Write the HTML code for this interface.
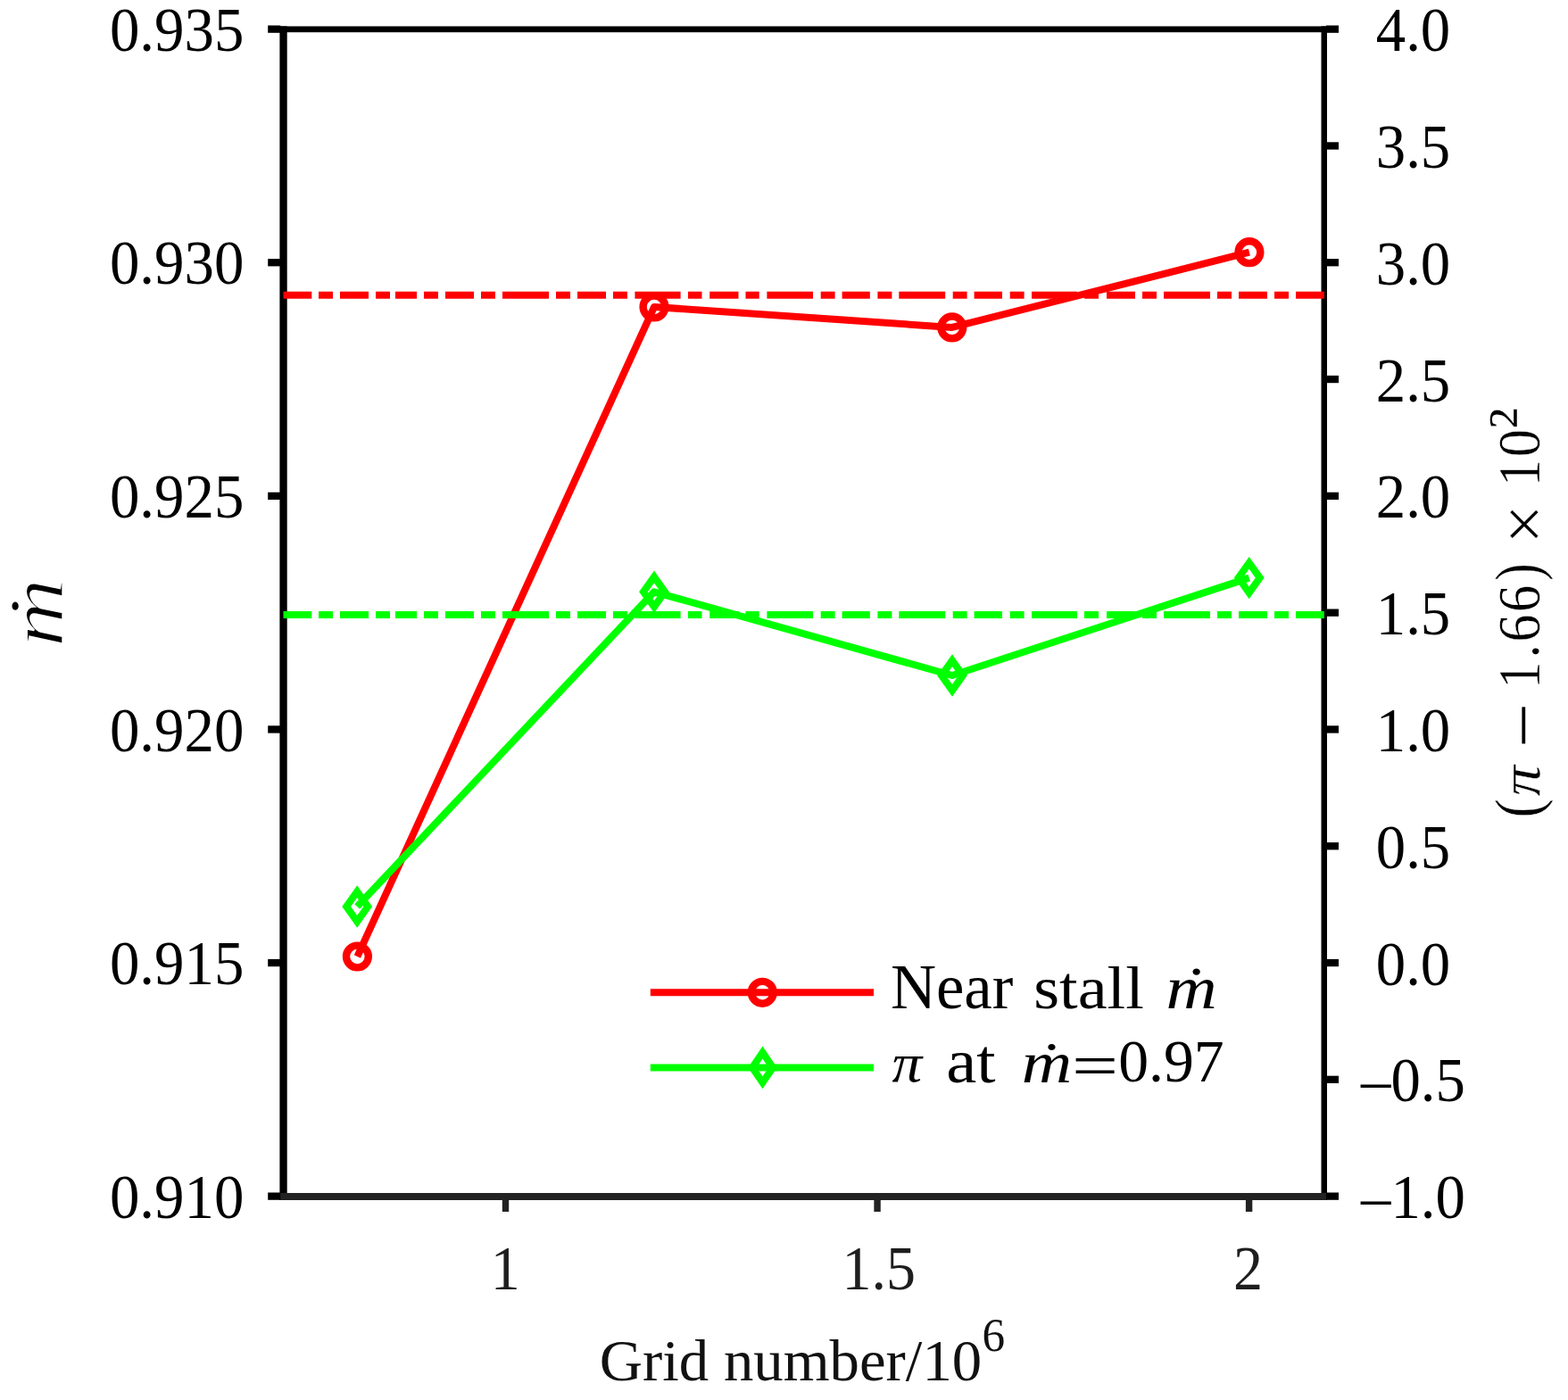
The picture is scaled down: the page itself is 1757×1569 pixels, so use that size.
<!DOCTYPE html>
<html><head><meta charset="utf-8"><title>Grid independence</title>
<style>html,body{margin:0;padding:0;background:#fff;overflow:hidden}svg{display:block}text{font-family:'Liberation Serif', 'Times New Roman', serif}</style></head><body>
<svg width="1757" height="1569" viewBox="0 0 1757 1569">
<rect width="1757" height="1569" fill="#fff"/>
<polyline points="400.4,1072.0 733.0,344.0 1066.8,366.9 1399.9,282.7" fill="none" stroke="#ff0000" stroke-width="8" stroke-linejoin="round" stroke-linecap="butt"/>
<circle cx="400.4" cy="1072.0" r="12.4" fill="none" stroke="#ff0000" stroke-width="8.4"/>
<circle cx="733.0" cy="344.0" r="12.4" fill="none" stroke="#ff0000" stroke-width="8.4"/>
<circle cx="1066.8" cy="366.9" r="12.4" fill="none" stroke="#ff0000" stroke-width="8.4"/>
<circle cx="1399.9" cy="282.7" r="12.4" fill="none" stroke="#ff0000" stroke-width="8.4"/>
<polyline points="400.2,1016.0 733.0,663.3 1067.0,757.0 1399.7,647.6" fill="none" stroke="#00ff00" stroke-width="8" stroke-linejoin="round" stroke-linecap="butt"/>
<path d="M400.2 999.2L412.2 1016.0L400.2 1032.8L388.2 1016.0Z" fill="none" stroke="#00ff00" stroke-width="8" stroke-linejoin="miter" stroke-miterlimit="10"/>
<path d="M733.0 646.5L745.0 663.3L733.0 680.1L721.0 663.3Z" fill="none" stroke="#00ff00" stroke-width="8" stroke-linejoin="miter" stroke-miterlimit="10"/>
<path d="M1067.0 740.2L1079.0 757.0L1067.0 773.8L1055.0 757.0Z" fill="none" stroke="#00ff00" stroke-width="8" stroke-linejoin="miter" stroke-miterlimit="10"/>
<path d="M1399.7 630.8L1411.7 647.6L1399.7 664.4L1387.7 647.6Z" fill="none" stroke="#00ff00" stroke-width="8" stroke-linejoin="miter" stroke-miterlimit="10"/>
<rect x="313.40" y="29.40" width="8.30" height="1315.60" fill="#000"/>
<rect x="1480.50" y="29.40" width="6.50" height="1315.60" fill="#000"/>
<rect x="313.40" y="29.45" width="1173.60" height="6.75" fill="#000"/>
<rect x="313.40" y="1337.00" width="1173.60" height="8.00" fill="#222"/>
<rect x="300.2" y="28.50" width="14" height="8.3" fill="#000"/>
<rect x="300.2" y="290.10" width="14" height="8.3" fill="#000"/>
<rect x="300.2" y="551.70" width="14" height="8.3" fill="#000"/>
<rect x="300.2" y="813.30" width="14" height="8.3" fill="#000"/>
<rect x="300.2" y="1074.90" width="14" height="8.3" fill="#000"/>
<rect x="300.2" y="1336.50" width="14" height="8.3" fill="#000"/>
<rect x="1486" y="28.50" width="14" height="8.3" fill="#000"/>
<rect x="1486" y="159.30" width="14" height="8.3" fill="#000"/>
<rect x="1486" y="290.10" width="14" height="8.3" fill="#000"/>
<rect x="1486" y="420.90" width="14" height="8.3" fill="#000"/>
<rect x="1486" y="551.70" width="14" height="8.3" fill="#000"/>
<rect x="1486" y="682.50" width="14" height="8.3" fill="#000"/>
<rect x="1486" y="813.30" width="14" height="8.3" fill="#000"/>
<rect x="1486" y="944.10" width="14" height="8.3" fill="#000"/>
<rect x="1486" y="1074.90" width="14" height="8.3" fill="#000"/>
<rect x="1486" y="1205.70" width="14" height="8.3" fill="#000"/>
<rect x="1486" y="1336.50" width="14" height="8.3" fill="#000"/>
<rect x="562.80" y="1344" width="7.4" height="14" fill="#222"/>
<rect x="979.35" y="1344" width="7.4" height="14" fill="#222"/>
<rect x="1395.90" y="1344" width="7.4" height="14" fill="#222"/>
<path d="M317.5 330.80H349.3M357.0 330.80H373.0M381.0 330.80H413.0M421.0 330.80H437.0M443.0 330.80H467.0M475.0 330.80H491.0M499.0 330.80H531.0M539.0 330.80H555.0M563.0 330.80H615.0M623.0 330.80H639.0M647.0 330.80H679.0M687.0 330.80H703.0M711.4 330.80H762.6M771.0 330.80H786.5M795.2 330.80H827.5M835.5 330.80H850.7M859.4 330.80H911.0M919.7 330.80H935.6M943.6 330.80H974.8M983.4 330.80H999.4M1007.3 330.80H1059.2M1067.7 330.80H1083.6M1091.6 330.80H1123.0M1131.7 330.80H1147.6M1156.0 330.80H1207.0M1215.0 330.80H1231.0M1240.0 330.80H1272.0M1280.0 330.80H1296.0M1304.0 330.80H1356.0M1364.0 330.80H1380.0M1388.0 330.80H1420.0M1428.0 330.80H1444.0M1452.0 330.80H1483.8" stroke="#ff0000" stroke-width="8.1" fill="none"/>
<path d="M317.5 689.00H349.3M357.0 689.00H373.0M381.0 689.00H413.0M421.0 689.00H437.0M443.0 689.00H467.0M475.0 689.00H491.0M499.0 689.00H531.0M539.0 689.00H555.0M563.0 689.00H615.0M623.0 689.00H639.0M647.0 689.00H679.0M687.0 689.00H703.0M711.4 689.00H762.6M771.0 689.00H786.5M795.2 689.00H827.5M835.5 689.00H850.7M859.4 689.00H911.0M919.7 689.00H935.6M943.6 689.00H974.8M983.4 689.00H999.4M1007.3 689.00H1059.2M1067.7 689.00H1083.6M1091.6 689.00H1123.0M1131.7 689.00H1147.6M1156.0 689.00H1207.0M1215.0 689.00H1231.0M1240.0 689.00H1272.0M1280.0 689.00H1296.0M1304.0 689.00H1356.0M1364.0 689.00H1380.0M1388.0 689.00H1420.0M1428.0 689.00H1444.0M1452.0 689.00H1483.8" stroke="#00ff00" stroke-width="8.1" fill="none"/>
<text transform="translate(273.40 56.85) scale(1 1.045)" font-size="66.90" text-anchor="end">0.935</text>
<text transform="translate(273.40 318.45) scale(1 1.045)" font-size="66.90" text-anchor="end">0.930</text>
<text transform="translate(273.40 580.05) scale(1 1.045)" font-size="66.90" text-anchor="end">0.925</text>
<text transform="translate(273.40 841.65) scale(1 1.045)" font-size="66.90" text-anchor="end">0.920</text>
<text transform="translate(273.40 1103.25) scale(1 1.045)" font-size="66.90" text-anchor="end">0.915</text>
<text transform="translate(273.40 1364.85) scale(1 1.045)" font-size="66.90" text-anchor="end">0.910</text>
<text transform="translate(1583.50 57.25) scale(1 1.055)" font-size="66.80" text-anchor="middle">4.0</text>
<text transform="translate(1583.50 188.05) scale(1 1.055)" font-size="66.80" text-anchor="middle">3.5</text>
<text transform="translate(1583.50 318.85) scale(1 1.055)" font-size="66.80" text-anchor="middle">3.0</text>
<text transform="translate(1583.50 449.65) scale(1 1.055)" font-size="66.80" text-anchor="middle">2.5</text>
<text transform="translate(1583.50 580.45) scale(1 1.055)" font-size="66.80" text-anchor="middle">2.0</text>
<text transform="translate(1583.50 711.25) scale(1 1.055)" font-size="66.80" text-anchor="middle">1.5</text>
<text transform="translate(1583.50 842.05) scale(1 1.055)" font-size="66.80" text-anchor="middle">1.0</text>
<text transform="translate(1583.50 972.85) scale(1 1.055)" font-size="66.80" text-anchor="middle">0.5</text>
<text transform="translate(1583.50 1103.65) scale(1 1.055)" font-size="66.80" text-anchor="middle">0.0</text>
<text transform="translate(1583.50 1234.45) scale(1 1.055)" font-size="66.80" text-anchor="middle">–0.5</text>
<text transform="translate(1583.50 1365.25) scale(1 1.055)" font-size="66.80" text-anchor="middle">–1.0</text>
<text transform="translate(566.20 1445.00) scale(1 1.060)" font-size="66.00" text-anchor="middle" fill="#1e1e1e">1</text>
<text transform="translate(984.70 1445.00) scale(1 1.060)" font-size="66.00" text-anchor="middle" fill="#1e1e1e">1.5</text>
<text transform="translate(1398.50 1445.00) scale(1 1.060)" font-size="66.00" text-anchor="middle" fill="#1e1e1e">2</text>
<text fill="#111"><tspan x="671.81" y="1546.60" font-size="65.00" textLength="428.37" lengthAdjust="spacingAndGlyphs">Grid number/10</tspan><tspan x="1100.60" y="1514.06" font-size="53.67" textLength="25.60" lengthAdjust="spacingAndGlyphs">6</tspan></text>
<text transform="translate(70.30 0) rotate(-90)" stroke="#fff" stroke-width="1.80"><tspan x="-725.56" y="0.00" font-size="86.18" textLength="77.69" lengthAdjust="spacingAndGlyphs" font-style="italic">ṁ</tspan></text>
<text transform="translate(1725.30 0) rotate(-90)" stroke="#fff" stroke-width="0.40"><tspan x="-916.39" y="-0.25" font-size="72.89" textLength="21.19" lengthAdjust="spacingAndGlyphs">(</tspan><tspan x="-892.20" y="-0.49" font-size="63.17" textLength="34.33" lengthAdjust="spacingAndGlyphs" font-style="italic">π</tspan> <tspan x="-837.95" y="7.30" font-size="76.80" textLength="49.93" lengthAdjust="spacingAndGlyphs" stroke-width="0">−</tspan> <tspan x="-771.73" y="-0.10" font-size="67.57" textLength="30.27" lengthAdjust="spacingAndGlyphs">1</tspan><tspan x="-737.00" y="-1.30" font-size="64.00" textLength="14.40" lengthAdjust="spacingAndGlyphs" stroke-width="0">.</tspan><tspan x="-719.54" y="-0.46" font-size="67.78" textLength="31.12" lengthAdjust="spacingAndGlyphs">6</tspan><tspan x="-685.90" y="-0.46" font-size="67.78" textLength="30.34" lengthAdjust="spacingAndGlyphs">6</tspan><tspan x="-650.72" y="-0.25" font-size="72.89" textLength="19.43" lengthAdjust="spacingAndGlyphs">)</tspan> <tspan x="-609.61" y="8.81" font-size="78.46" textLength="44.11" lengthAdjust="spacingAndGlyphs">×</tspan> <tspan x="-545.35" y="-0.20" font-size="66.98" textLength="30.40" lengthAdjust="spacingAndGlyphs">1</tspan><tspan x="-512.26" y="-0.46" font-size="67.78" textLength="31.43" lengthAdjust="spacingAndGlyphs">0</tspan><tspan x="-480.94" y="-4.90" font-size="76.80" textLength="24.34" lengthAdjust="spacingAndGlyphs">²</tspan></text>
<path d="M728.8 1112.30H979" stroke="#ff0000" stroke-width="8"/>
<circle cx="854.3" cy="1112.3" r="12.4" fill="none" stroke="#ff0000" stroke-width="8.4"/>
<path d="M728.8 1196.40H979" stroke="#00ff00" stroke-width="8"/>
<path d="M854.5 1179.6L866.0 1196.4L854.5 1213.2L843.0 1196.4Z" fill="none" stroke="#00ff00" stroke-width="8" stroke-linejoin="miter" stroke-miterlimit="10"/>
<text stroke="#fff" stroke-width="0.00"><tspan x="997.89" y="1129.50" font-size="71.92" textLength="137.45" lengthAdjust="spacingAndGlyphs">Near</tspan> <tspan x="1158.28" y="1129.80" font-size="67.27" textLength="123.52" lengthAdjust="spacingAndGlyphs">stall</tspan> <tspan x="1306.52" y="1129.80" font-size="66.68" textLength="57.22" lengthAdjust="spacingAndGlyphs" font-style="italic">ṁ</tspan></text>
<text stroke="#fff" stroke-width="0.00"><tspan x="999.40" y="1211.63" font-size="62.14" textLength="33.67" lengthAdjust="spacingAndGlyphs" font-style="italic">π</tspan> <tspan x="1060.20" y="1212.60" font-size="69.36" textLength="55.33" lengthAdjust="spacingAndGlyphs">at</tspan> <tspan x="1144.76" y="1212.60" font-size="66.23" textLength="56.45" lengthAdjust="spacingAndGlyphs" font-style="italic">ṁ</tspan><tspan x="1200.97" y="1216.91" font-size="67.01" textLength="52.10" lengthAdjust="spacingAndGlyphs" stroke-width="0">=</tspan><tspan x="1253.18" y="1212.24" font-size="67.93" textLength="118.58" lengthAdjust="spacingAndGlyphs">0.97</tspan></text>
</svg></body></html>
